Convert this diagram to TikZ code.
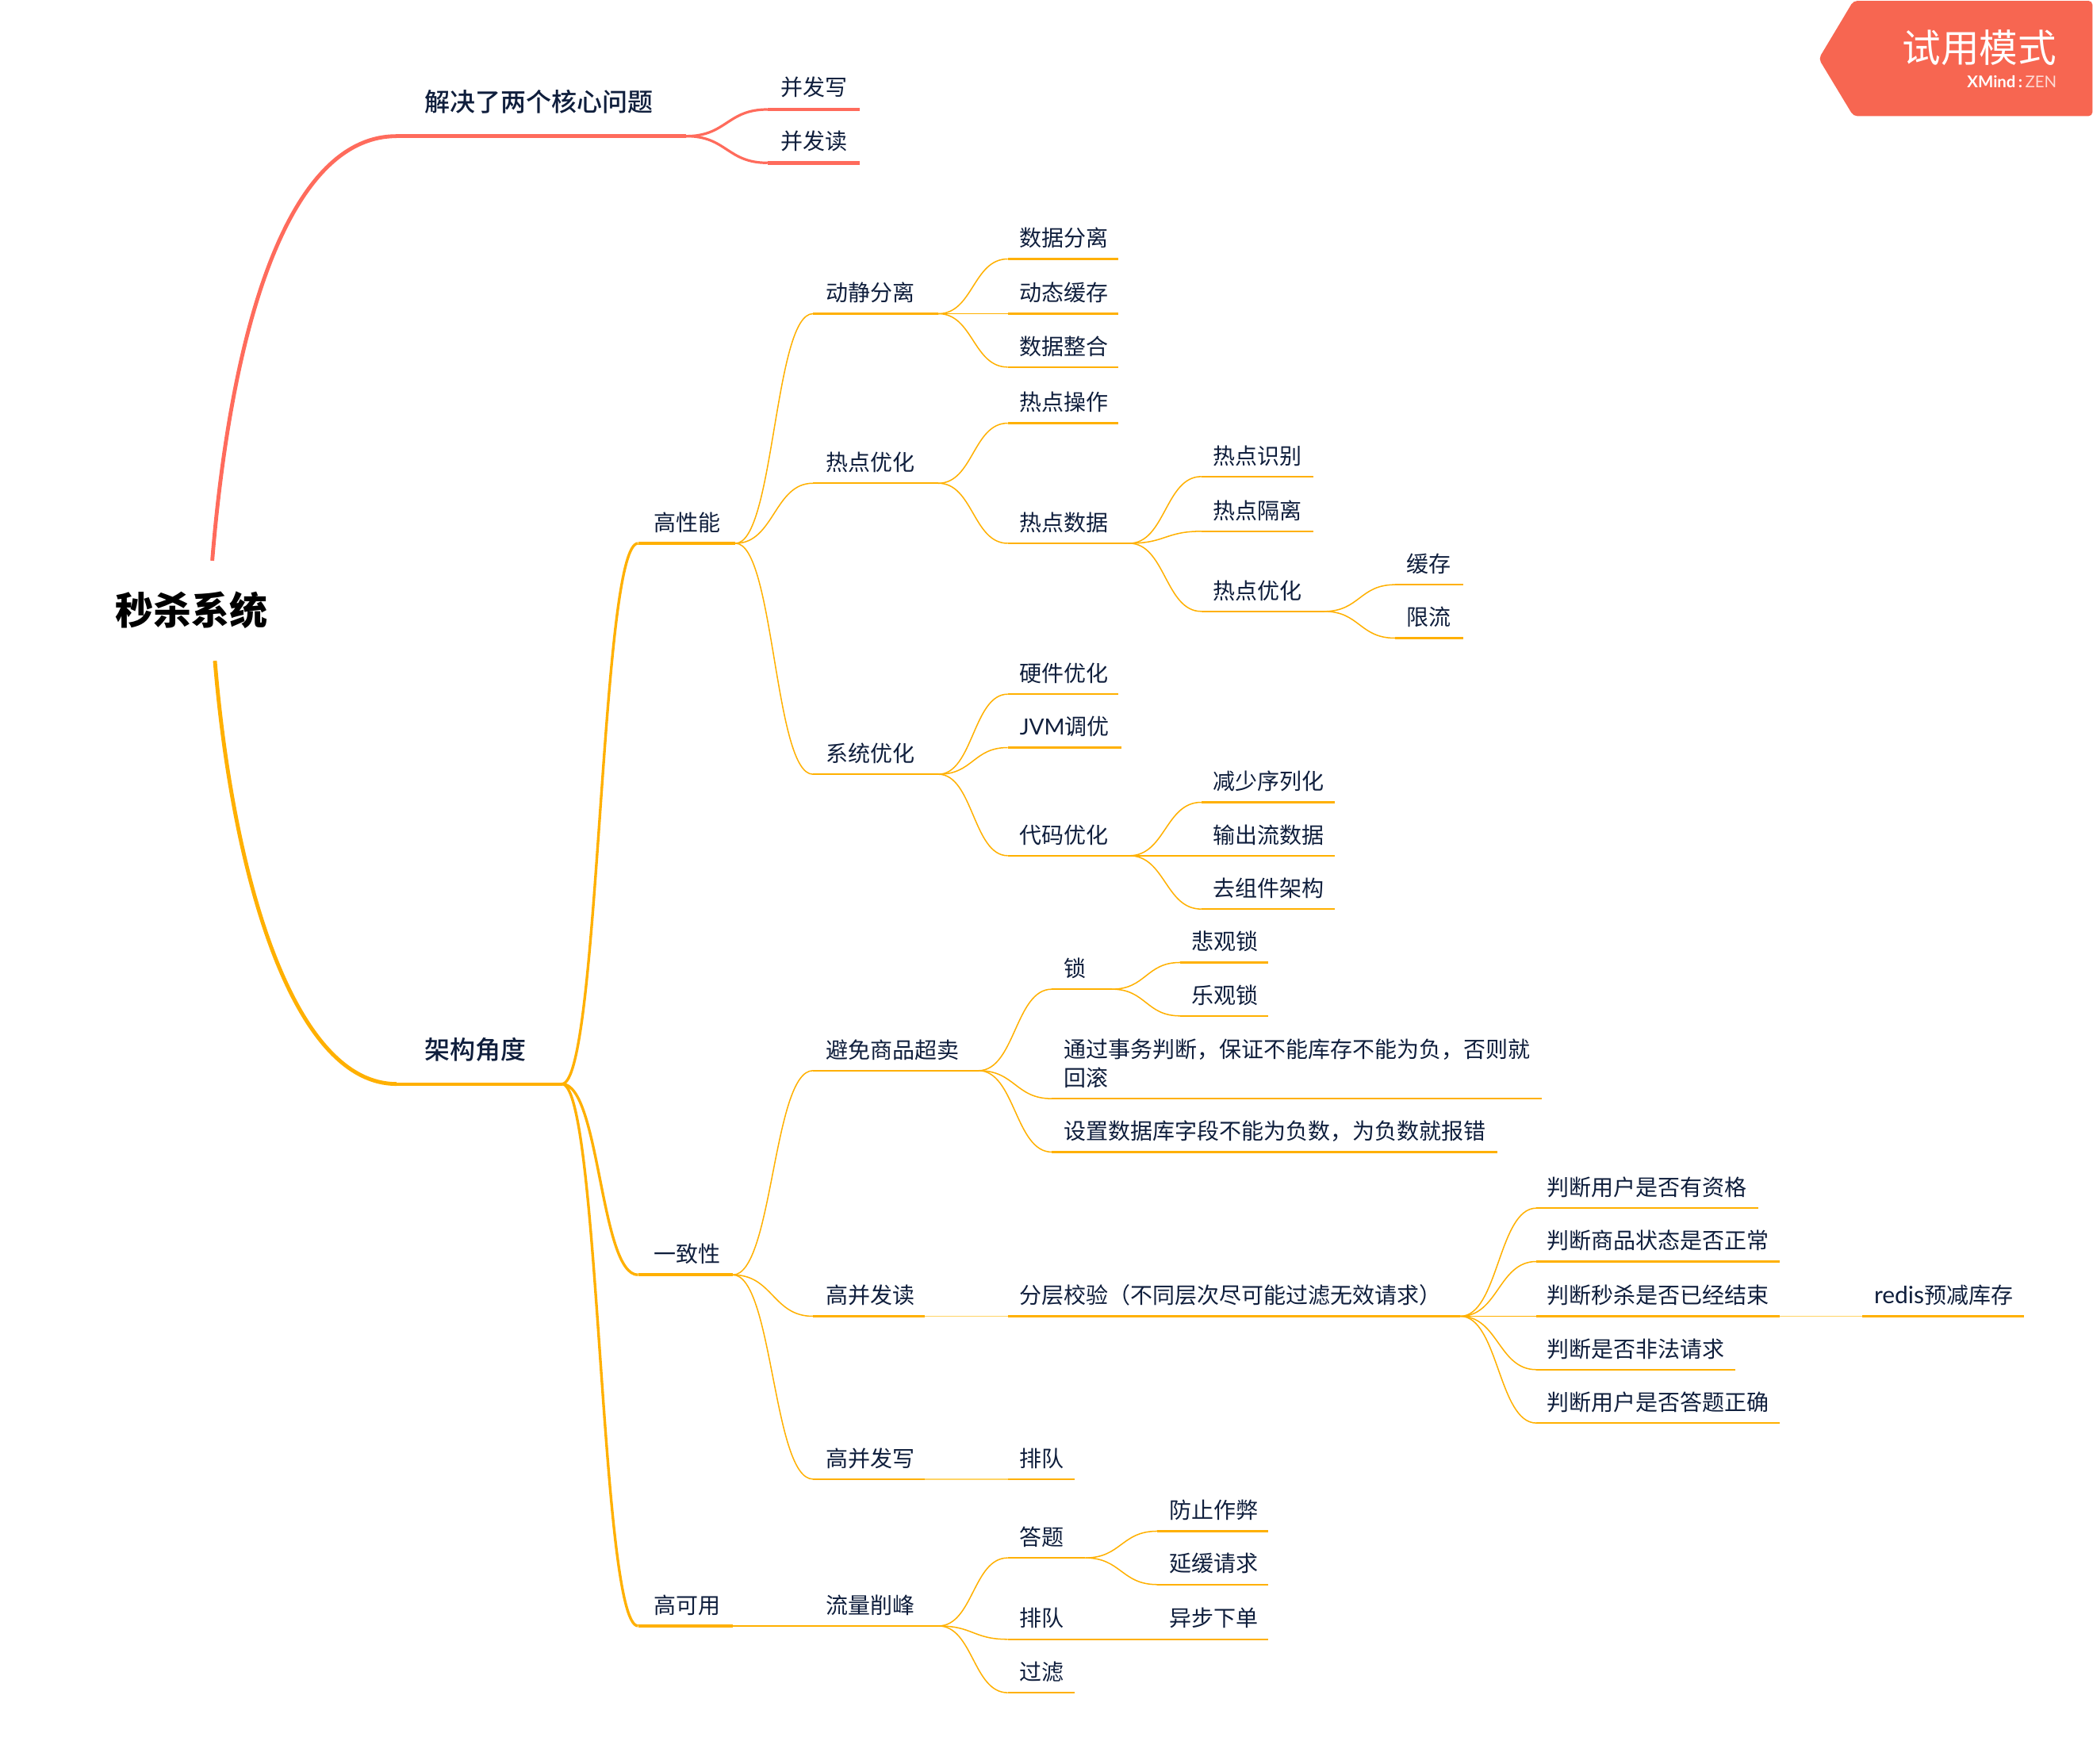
\documentclass[tikz,border=0pt]{standalone}
\usepackage{fontspec}
\setmainfont{Noto Sans CJK SC}
\newfontfamily\lat{Lato}
\newfontfamily\medf{Noto Sans CJK SC Medium}
\usetikzlibrary{calc}
\definecolor{ink}{HTML}{0F1E3C}
\definecolor{redl}{HTML}{FF6B5C}
\definecolor{orl}{HTML}{FFB000}
\definecolor{wm}{HTML}{F76651}
\definecolor{faint}{HTML}{FFD466}
\newlength{\uu}\setlength{\uu}{0.8415pt}
\tikzset{
 x=\uu,y=-\uu,
 topic/.style={anchor=south west,outer sep=0pt,inner ysep=5.9pt,
   text=ink,font=\fontsize{14pt}{17.7pt}\selectfont,align=left,text height=11pt,text depth=2pt},
 lead/.style={font=\fontsize{16pt}{20pt}\medf\selectfont,inner ysep=13.5pt},
 rl/.style={draw=redl,line width=2.6\uu},
 rc0/.style={draw=redl,line width=2.9\uu},
 rc/.style={draw=redl,line width=1.9\uu},
 ol1/.style={draw=orl,line width=2.4\uu},
 oc0/.style={draw=orl,line width=2.9\uu},
 oc1/.style={draw=orl,line width=2\uu},
 ol2/.style={draw=orl,line width=1.4\uu},
 oc2/.style={draw=orl,line width=0.9\uu},
 link/.style={draw=faint,line width=1\uu},
 sc/.style={to path={let \p1=(\tikztostart),\p2=(\tikztotarget),\n1={0.5*(\x2-\x1)} in
    .. controls ({\x1+\n1},\y1) and ({\x2-\n1},\y2) .. (\tikztotarget)}},
}
% \topicx{node style}{pad}{line style}{name}{x1}{x2}{y}{text}
\newcommand{\topicx}[8]{%
  \pgfmathsetmacro{\tw}{(#6-#5-2*#2)*0.8415}%
  \pgfmathsetmacro{\mw}{(#6-#5)*0.8415}%
  \node[topic,inner xsep=#2\uu,text width=\tw pt,minimum width=\mw pt,#1] (#4) at (#5,#7) {#8};
  \draw[#3] (#4.south west) -- (#4.south east);
}
\newcommand{\topic}[7][9]{\topicx{}{#1}{#2}{#3}{#4}{#5}{#6}{#7}}
\newcommand{\conn}[3]{\draw[#1] (#2.south east) to[sc] (#3.south west);}
\begin{document}
\begin{tikzpicture}
\useasboundingbox (0,0) rectangle (1568,1320.9);
% watermark
\fill[wm,rounded corners=3\uu] (1362.5,44) -- (1388.5,0.6) -- (1567.6,0.6) -- (1567.6,87) -- (1388.5,87) -- cycle;
\node[anchor=east,text=white,font=\fontsize{24.3pt}{28pt}\selectfont,inner sep=0pt] (wmA) at (1541,36) {试用模式};
\node[anchor=east,text=white,font=\lat\fontsize{10.2pt}{12pt}\selectfont,inner sep=0pt] (wmB) at (1541,61) {\textbf{XMind}\,\textbf{:}\,{\color{white!75!wm}ZEN}};
% root
\node[text=black,font=\fontsize{24pt}{28pt}\bfseries\selectfont,inner sep=0pt] (root) at (143.5,457) {秒杀系统};
\coordinate (rootT) at (159,420);
\coordinate (rootB) at (161,495);
% first branch
\topicx{lead}{21}{rl}{lone}{297}{514}{102}{解决了两个核心问题}
\topicx{inner ysep=6.6pt}{10}{rl}{bfx}{575}{644}{82}{并发写}
\topicx{inner ysep=6.6pt}{10}{rl}{bfd}{575}{644}{122}{并发读}
\draw[rc0] (rootT) .. controls (175,225) and (222,102) .. (lone.south west);
\conn{rc}{lone}{bfx}
\conn{rc}{lone}{bfd}
% second branch
\topicx{lead}{21}{ol1}{arch}{297}{421}{812}{架构角度}
\draw[oc0] (rootB) .. controls (175,665) and (222,812) .. (arch.south west);
\topic[12]{ol1}{perf}{478}{551}{407}{高性能}
\topic[12]{ol1}{cons}{478}{549}{955}{一致性}
\topic[12]{ol1}{avai}{478}{549}{1218}{高可用}
\conn{oc1}{arch}{perf}
\conn{oc1}{arch}{cons}
\conn{oc1}{arch}{avai}
% perf
\topic[10]{ol2}{dj}{609}{703}{235}{动静分离}
\topic[10]{ol2}{rd}{609}{703}{362}{热点优化}
\topic[10]{ol2}{xt}{609}{703}{580}{系统优化}
\conn{oc2}{perf}{dj}\conn{oc2}{perf}{rd}\conn{oc2}{perf}{xt}
\topic{ol2}{dj1}{755}{838}{194}{数据分离}
\topic{ol2}{dj2}{755}{838}{235}{动态缓存}
\topic{ol2}{dj3}{755}{838}{275}{数据整合}
\conn{oc2}{dj}{dj1}\conn{oc2}{dj}{dj2}\conn{oc2}{dj}{dj3}
\topic{ol2}{rd1}{755}{838}{317}{热点操作}
\topic{ol2}{rd2}{755}{846}{407}{热点数据}
\conn{oc2}{rd}{rd1}\conn{oc2}{rd}{rd2}
\topic{ol2}{rs1}{900}{984}{357}{热点识别}
\topic{ol2}{rs2}{900}{984}{398}{热点隔离}
\topic{ol2}{rs3}{900}{992}{458}{热点优化}
\conn{oc2}{rd2}{rs1}\conn{oc2}{rd2}{rs2}\conn{oc2}{rd2}{rs3}
\topic{ol2}{hc}{1045}{1096}{438}{缓存}
\topic{ol2}{xl}{1045}{1096}{478}{限流}
\conn{oc2}{rs3}{hc}\conn{oc2}{rs3}{xl}
\topic{ol2}{xt1}{755}{838}{520}{硬件优化}
\topic{ol2}{xt2}{755}{840}{560}{{\lat JVM}调优}
\topic{ol2}{xt3}{755}{846}{641}{代码优化}
\conn{oc2}{xt}{xt1}\conn{oc2}{xt}{xt2}\conn{oc2}{xt}{xt3}
\topic{ol2}{dm1}{900}{1000}{601}{减少序列化}
\topic{ol2}{dm2}{900}{1000}{641}{输出流数据}
\topic{ol2}{dm3}{900}{1000}{681}{去组件架构}
\conn{oc2}{xt3}{dm1}\conn{oc2}{xt3}{dm2}\conn{oc2}{xt3}{dm3}
% consistency
\topic[10]{ol2}{oversell}{609}{733}{802}{避免商品超卖}
\topic[10]{ol2}{grd}{609}{693}{986}{高并发读}
\topic[10]{ol2}{gwr}{609}{693}{1108}{高并发写}
\conn{oc2}{cons}{oversell}\conn{oc2}{cons}{grd}\conn{oc2}{cons}{gwr}
\topic{ol2}{lock}{788}{833}{741}{锁}
\topicx{text depth=19.7pt}{9}{ol2}{tx}{788}{1155}{823}{通过事务判断，保证不能库存不能为负，否则就\\回滚}
\topic{ol2}{fld}{788}{1122}{863}{设置数据库字段不能为负数，为负数就报错}
\conn{oc2}{oversell}{lock}\conn{oc2}{oversell}{tx}\conn{oc2}{oversell}{fld}
\topic{ol2}{pess}{884}{950}{721}{悲观锁}
\topic{ol2}{opt}{884}{950}{761}{乐观锁}
\conn{oc2}{lock}{pess}\conn{oc2}{lock}{opt}
\topic{ol2}{layer}{755}{1094}{986}{分层校验（不同层次尽可能过滤无效请求）}
\draw[link] (grd.south east) -- (layer.south west);
\topic[8]{ol2}{c1}{1151}{1317}{905}{判断用户是否有资格}
\topic[8]{ol2}{c2}{1151}{1333}{945}{判断商品状态是否正常}
\topic[8]{ol2}{c3}{1151}{1333}{986}{判断秒杀是否已经结束}
\topic[8]{ol2}{c4}{1151}{1300}{1026}{判断是否非法请求}
\topic[8]{ol2}{c5}{1151}{1333}{1066}{判断用户是否答题正确}
\conn{oc2}{layer}{c1}\conn{oc2}{layer}{c2}\conn{oc2}{layer}{c3}\conn{oc2}{layer}{c4}\conn{oc2}{layer}{c5}
\topic{ol2}{redis}{1395}{1516}{986}{{\lat\fontsize{15pt}{17.7pt}\selectfont redis}预减库存}
\draw[link] (c3.south east) -- (redis.south west);
\topic{ol2}{pd}{755}{805}{1108}{排队}
\draw[link] (gwr.south east) -- (pd.south west);
% availability
\topic[10]{ol2}{flow}{609}{703}{1218}{流量削峰}
\draw[oc2] (avai.south east) -- (flow.south west);
\topic{ol2}{dt}{755}{813}{1167}{答题}
\topic{ol2}{pd2}{755}{813}{1228}{排队}
\topic{ol2}{gl}{755}{805}{1268}{过滤}
\conn{oc2}{flow}{dt}\conn{oc2}{flow}{pd2}\conn{oc2}{flow}{gl}
\topic{ol2}{fz}{867}{950}{1147}{防止作弊}
\topic{ol2}{yh}{867}{950}{1187}{延缓请求}
\topic{ol2}{yb}{867}{950}{1228}{异步下单}
\conn{oc2}{dt}{fz}\conn{oc2}{dt}{yh}
\draw[oc2] (pd2.south east) -- (yb.south west);
\end{tikzpicture}
\end{document}
